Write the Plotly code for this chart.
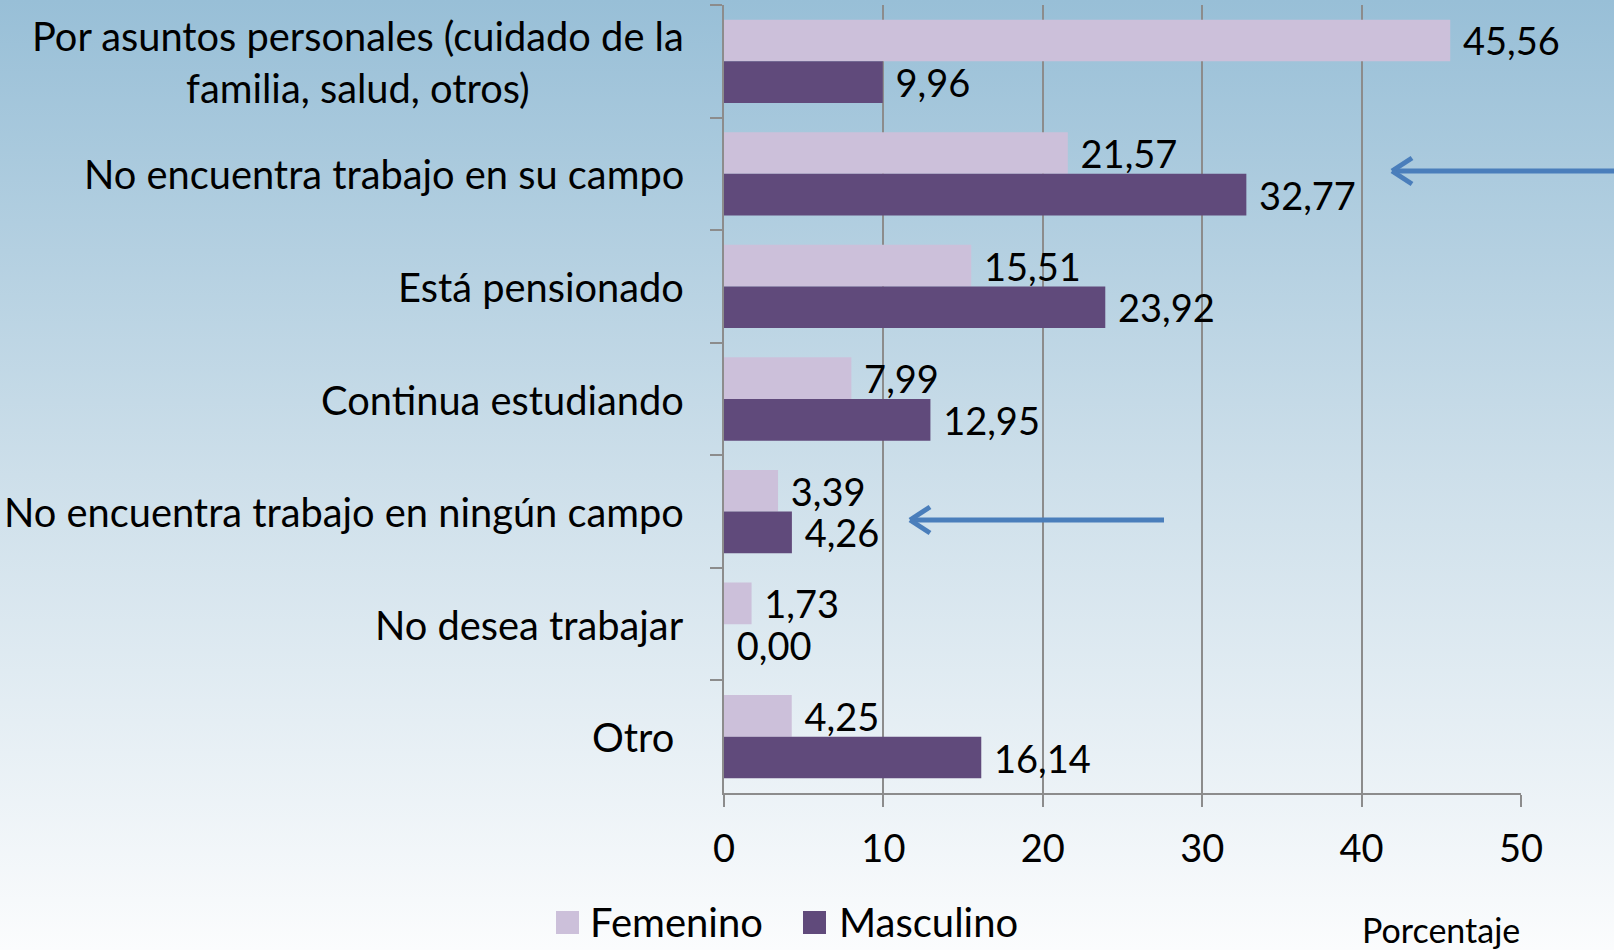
import base64
import plotly.graph_objects as go

categories = [
    "Por asuntos personales (cuidado de la<br>familia, salud, otros)",
    "No encuentra trabajo en su campo",
    "Está pensionado",
    "Continua estudiando",
    "No encuentra trabajo en ningún campo",
    "No desea trabajar",
    "Otro\u00a0",
]
femenino = [45.56, 21.57, 15.51, 7.99, 3.39, 1.73, 4.25]
masculino = [9.96, 32.77, 23.92, 12.95, 4.26, 0.00, 16.14]
x_ticks = [0, 10, 20, 30, 40, 50]
series_names = ["Femenino", "Masculino"]
axis_title = "Porcentaje"

W, H = 1614, 950
L, R, T, B = 724, 1521, 5, 793
FONT = "Lato"
C_FEM = "#CCC0DA"
C_MAS = "#604A7B"
GRID = "#8C8C8C"
ARROW = "#4A7EBB"


def px(xp):
    return (xp - L) / (R - L)


def py(yp):
    return (B - yp) / (B - T)


fig = go.Figure()
for name, vals, col in [(series_names[0], femenino, C_FEM), (series_names[1], masculino, C_MAS)]:
    fig.add_trace(go.Bar(
        name=name, y=categories, x=vals, orientation="h",
        marker=dict(color=col, line=dict(width=0)),
        texttemplate="\u00a0%{x:.2f}", textposition="outside",
        textfont=dict(family=FONT, size=38, color="black"),
        constraintext="none", cliponaxis=False, showlegend=False,
        hoverinfo="skip",
    ))

# background gradient
svg = f'''<svg xmlns="http://www.w3.org/2000/svg" width="{W}" height="{H}" preserveAspectRatio="none">
<defs><linearGradient id="g" x1="0" y1="0" x2="0" y2="1">
<stop offset="0" stop-color="#98BFD7"/>
<stop offset="0.5" stop-color="#CDDFEA"/>
<stop offset="1" stop-color="#FBFCFD"/>
</linearGradient></defs>
<rect width="{W}" height="{H}" fill="url(#g)"/></svg>'''
src = "data:image/svg+xml;base64," + base64.b64encode(svg.encode()).decode()

annotations = []
for c in categories:
    annotations.append(dict(
        x=px(686), xref="paper", y=c, yref="y", text=c, showarrow=False,
        xanchor="right", yanchor="middle", align="center",
        font=dict(family=FONT, size=39.8, color="black"),
    ))

# legend (manual)
shapes = []
leg = [(series_names[0], C_FEM, 556, 588), (series_names[1], C_MAS, 803, 837)]
for name, col, sx, tx in leg:
    shapes.append(dict(type="rect", xref="paper", yref="paper",
                       x0=px(sx), x1=px(sx + 23), y0=py(934), y1=py(911),
                       fillcolor=col, line=dict(width=0)))
    annotations.append(dict(x=px(tx), y=py(922), xref="paper", yref="paper",
                            text=name, showarrow=False, xanchor="left", yanchor="middle",
                            font=dict(family=FONT, size=40, color="black")))

annotations.append(dict(x=px(1522), y=py(929), xref="paper", yref="paper",
                        text=axis_title, showarrow=False, xanchor="right", yanchor="middle",
                        font=dict(family=FONT, size=34, color="black")))

# arrows
for x0, x1, yy in [(1614, 1392, 171), (1164, 910, 520)]:
    shapes.append(dict(type="line", xref="paper", yref="paper",
                       x0=px(x0), x1=px(x1 + 2), y0=py(yy), y1=py(yy),
                       line=dict(color=ARROW, width=5)))
    for d in (-13, 13):
        shapes.append(dict(type="line", xref="paper", yref="paper",
                           x0=px(x1), y0=py(yy), x1=px(x1 + 20), y1=py(yy + d),
                           line=dict(color=ARROW, width=5)))

fig.update_layout(
    width=W, height=H,
    margin=dict(l=L, r=W - R, t=T, b=H - B, pad=0),
    paper_bgcolor="#DCE8F0", plot_bgcolor="rgba(0,0,0,0)",
    barmode="group", bargap=0.26, bargroupgap=0,
    separators=",.",
    font=dict(family=FONT, size=38, color="black"),
    images=[dict(source=src, xref="paper", yref="paper", x=px(0), y=py(0),
                 sizex=W / (R - L), sizey=H / (B - T), sizing="stretch",
                 xanchor="left", yanchor="top", layer="below")],
    annotations=annotations, shapes=shapes,
)
fig.update_xaxes(range=[0, 50], tickvals=x_ticks, showgrid=True, gridcolor=GRID, gridwidth=1.5,
                 showline=True, linecolor=GRID, linewidth=2, ticks="outside", ticklen=12,
                 tickcolor=GRID, tickwidth=1.5, zeroline=False, ticklabelstandoff=9,
                 tickfont=dict(family=FONT, size=38, color="black"), fixedrange=True)
fig.update_yaxes(autorange="reversed", type="category", tickson="boundaries",
                 showticklabels=False, ticks="outside", ticklen=12, tickcolor=GRID, tickwidth=1.5,
                 showline=True, linecolor=GRID, linewidth=2, showgrid=False, fixedrange=True)

fig.write_html("out.html", config={"displayModeBar": False},
               post_script="document.body.style.margin='0';document.body.style.overflow='hidden';")
